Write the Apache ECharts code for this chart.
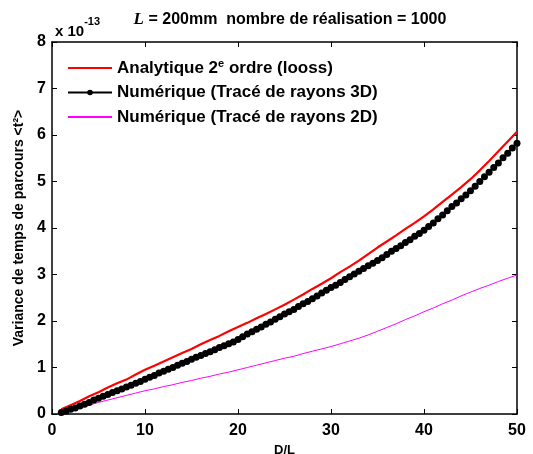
<!DOCTYPE html>
<html><head><meta charset="utf-8">
<script src="https://cdn.jsdelivr.net/npm/echarts@6/dist/echarts.min.js"></script>
<style>html,body{margin:0;padding:0;background:#fff}#c{width:533px;height:454px}</style>
</head><body><div id="c"></div>
<script>
// D/L values
const xDense = [];
for (let i = 0; i < 99; i++) xDense.push(1 + i * 0.5);
const xCoarse = [];
for (let i = 1; i <= 50; i++) xCoarse.push(i);

// Analytique 2e ordre (looss), x = 1..50 step 1 (units 1e-13)
const redVals = [0.10,0.19,0.28,0.38,0.47,0.57,0.66,0.74,0.85,0.95,
1.04,1.13,1.22,1.31,1.40,1.50,1.59,1.68,1.78,1.87,
1.96,2.06,2.15,2.25,2.35,2.46,2.57,2.69,2.80,2.92,
3.05,3.17,3.30,3.44,3.58,3.71,3.84,3.98,4.11,4.25,
4.40,4.56,4.72,4.88,5.05,5.24,5.44,5.65,5.86,6.07];

// Numérique 3D, x = 1..50 step 0.5
const blackVals = [0.03,0.06,0.10,0.13,0.17,0.21,0.25,0.30,0.34,0.38,
0.42,0.46,0.50,0.54,0.58,0.62,0.66,0.70,0.75,0.79,
0.83,0.88,0.92,0.96,1.00,1.05,1.09,1.13,1.18,1.22,
1.26,1.30,1.34,1.38,1.43,1.47,1.51,1.55,1.60,1.66,
1.72,1.77,1.82,1.87,1.93,1.98,2.04,2.09,2.15,2.20,
2.25,2.31,2.37,2.42,2.48,2.54,2.60,2.66,2.72,2.77,
2.83,2.89,2.95,3.01,3.07,3.13,3.19,3.24,3.30,3.36,
3.43,3.50,3.56,3.62,3.69,3.75,3.82,3.88,3.95,4.03,
4.11,4.20,4.28,4.37,4.46,4.54,4.63,4.71,4.80,4.90,
5.00,5.10,5.20,5.30,5.40,5.51,5.61,5.72,5.82];

// Numérique 2D, x = 1..50 step 1
const magVals = [0.02,0.08,0.14,0.19,0.25,0.30,0.35,0.40,0.45,0.50,
0.54,0.59,0.63,0.68,0.72,0.77,0.81,0.86,0.90,0.95,
1.00,1.05,1.10,1.15,1.20,1.24,1.30,1.35,1.40,1.45,
1.51,1.57,1.63,1.70,1.78,1.86,1.94,2.03,2.11,2.20,
2.28,2.37,2.45,2.54,2.62,2.70,2.77,2.85,2.92,2.99];

const seriesNames = ['Analytique 2e ordre (looss)','Numérique (Tracé de rayons 3D)','Numérique (Tracé de rayons 2D)'];

const F = 'Liberation Sans, Arial, sans-serif';
const chart = echarts.init(document.getElementById('c'), null, {renderer:'canvas'});
const axLine = {show:true, onZero:false, lineStyle:{color:'#000', width:1.5}};
const tick = {show:true, inside:true, length:5, lineStyle:{color:'#000', width:1}};
chart.setOption({
  animation:false,
  backgroundColor:'#fff',
  title:{
    text:'{i|L}{b| = 200mm  nombre de réalisation = 1000}',
    left:285, top:6, textAlign:'center',
    textStyle:{rich:{
      i:{fontFamily:'Liberation Serif, Times New Roman, serif', fontStyle:'italic', fontWeight:'bold', fontSize:17, color:'#000'},
      b:{fontFamily:F, fontWeight:'bold', fontSize:16, color:'#000'}
    }}
  },
  graphic:[{
    type:'text', left:55, top:16,
    style:{text:'{a|x 10}{s|-13}', rich:{
      a:{fontFamily:F, fontWeight:'bold', fontSize:15, fill:'#000', padding:[8,0,0,0]},
      s:{fontFamily:F, fontWeight:'bold', fontSize:11, fill:'#000', verticalAlign:'top'}
    }}
  }],
  legend:{
    left:62, top:53, orient:'vertical', itemGap:7.5, itemWidth:44, itemHeight:7,
    data:seriesNames.map((n,i)=> i===1 ? {name:n, itemStyle:{color:'#000'}} : {name:n, itemStyle:{opacity:0}}),
    formatter:function(n){
      if(n===seriesNames[0]) return '{a|Analytique 2}{s|e}{a| ordre (looss)}';
      return '{a|'+n+'}';
    },
    textStyle:{fontFamily:F, fontWeight:'bold', fontSize:17, color:'#000',
      rich:{a:{fontFamily:F, fontWeight:'bold', fontSize:17, color:'#000'},
            s:{fontFamily:F, fontWeight:'bold', fontSize:11, color:'#000', verticalAlign:'top', padding:[0,0,9,0]}}}
  },
  grid:{left:52, right:16, top:42, bottom:40, outerBoundsMode:'none', containLabel:false},
  xAxis:[{
    type:'value', min:0, max:50, interval:10, position:'bottom',
    name:'D/L', nameLocation:'middle', nameGap:29,
    nameTextStyle:{fontFamily:F, fontWeight:'bold', fontSize:13, color:'#000'},
    axisLine:axLine, axisTick:tick, splitLine:{show:false},
    axisLabel:{fontFamily:F, fontWeight:'bold', fontSize:16, color:'#000', margin:9}
  },{
    type:'value', min:0, max:50, interval:10, position:'top',
    axisLine:axLine, axisTick:tick, splitLine:{show:false}, axisLabel:{show:false}
  }],
  yAxis:[{
    type:'value', min:0, max:8, interval:1, position:'left',
    name:'Variance de temps de parcours <t²>', nameLocation:'middle', nameGap:24,
    nameTextStyle:{fontFamily:F, fontWeight:'bold', fontSize:14, color:'#000'},
    axisLine:axLine, axisTick:tick, splitLine:{show:false},
    axisLabel:{fontFamily:F, fontWeight:'bold', fontSize:16, color:'#000', margin:6}
  },{
    type:'value', min:0, max:8, interval:1, position:'right',
    axisLine:axLine, axisTick:tick, splitLine:{show:false}, axisLabel:{show:false}
  }],
  series:[{
    name:seriesNames[0], type:'line', showSymbol:false, symbol:'none',
    data:xCoarse.map((x,i)=>[x,redVals[i]]),
    lineStyle:{color:'#ff0000', width:2.2}, itemStyle:{color:'#ff0000'}, z:2
  },{
    name:seriesNames[1], type:'line', symbol:'circle', symbolSize:7,
    data:xDense.map((x,i)=>[x,blackVals[i]]),
    lineStyle:{color:'#000', width:1}, itemStyle:{color:'#000'}, z:3
  },{
    name:seriesNames[2], type:'line', showSymbol:false, symbol:'none',
    data:xCoarse.map((x,i)=>[x,magVals[i]]),
    lineStyle:{color:'#ff00ff', width:1}, itemStyle:{color:'#ff00ff'}, z:2
  }]
});
</script></body></html>
